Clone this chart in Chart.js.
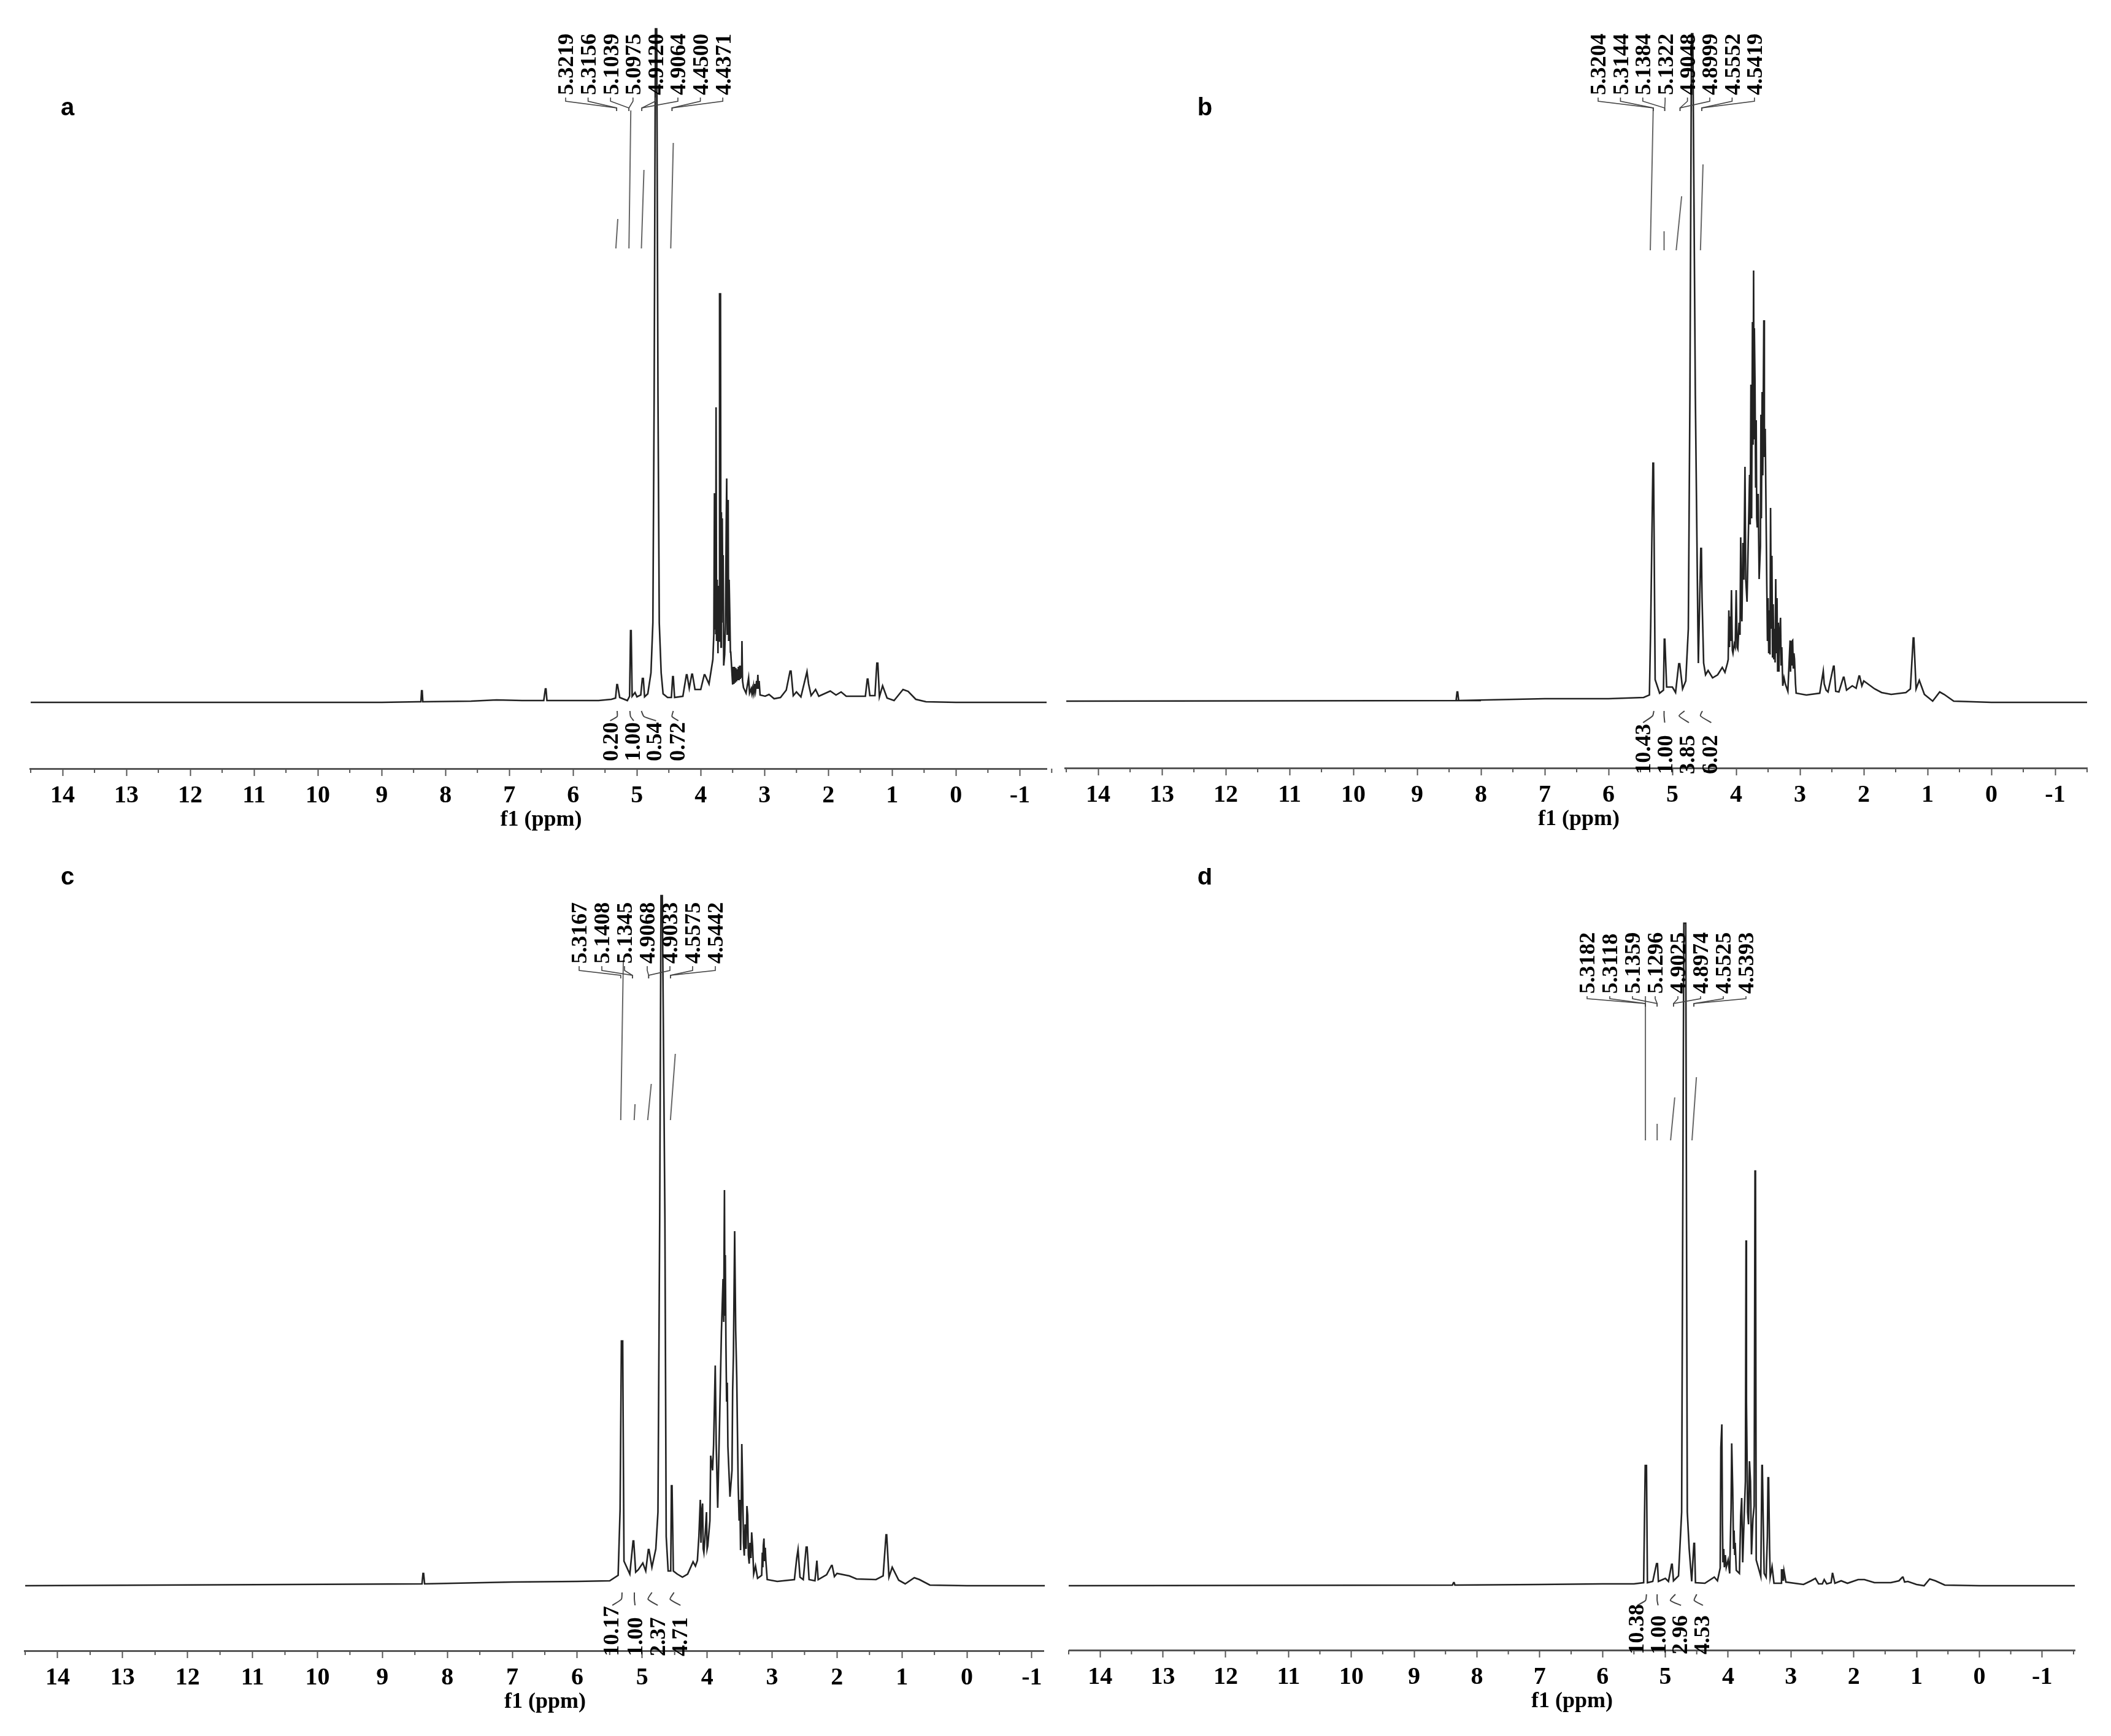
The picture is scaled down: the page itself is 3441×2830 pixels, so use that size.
<!DOCTYPE html>
<html><head><meta charset="utf-8">
<script src="https://cdn.jsdelivr.net/npm/chart.js@4"></script>
<style>html,body{margin:0;background:#fff}body{position:relative;width:3441px;height:2830px;overflow:hidden}canvas{position:absolute;filter:blur(0.6px)}</style>
</head><body>
<script>
// ---------- axis ticks ----------
const tickValues=[14,13,12,11,10,9,8,7,6,5,4,3,2,1,0,-1];
const minorTicks=[14.5,13.5,12.5,11.5,10.5,9.5,8.5,7.5,6.5,5.5,4.5,3.5,2.5,1.5,0.5,-0.5,-1.5];
const xTitle='f1 (ppm)';
const panelLetters=['a','b','c','d'];

// ---------- panel a ----------
const specAppm=[14.5,9,8.42,8.385,8.375,8.365,8.355,7.6,7.2,6.8,6.46,6.435,6.425,6.41,5.6,5.4,5.335,5.315,5.305,5.27,5.15,5.115,5.1,5.09,5.075,5.03,5.0,4.94,4.915,4.9,4.88,4.83,4.78,4.75,4.73,4.71,4.69,4.67,4.65,4.62,4.59,4.52,4.46,4.44,4.43,4.41,4.28,4.225,4.215,4.18,4.14,4.13,4.09,4.0,3.945,3.935,3.87,3.81,
 3.795,3.785,3.78,3.772,3.765,3.76,3.752,3.742,3.73,3.72,3.712,3.705,3.69,3.683,3.676,3.67,3.663,3.655,3.648,3.64,3.625,3.612,3.6,3.593,3.585,3.578,3.57,3.563,3.555,3.545,3.535,
 3.53,3.5,3.49,3.48,3.47,3.46,3.45,3.44,3.43,3.42,3.41,3.40,3.39,3.38,3.37,3.36,3.354,3.345,3.33,3.29,3.25,3.235,3.21,3.2,3.19,3.18,3.17,3.16,3.15,3.14,3.125,3.115,3.105,3.095,3.085,3.07,
 2.99,2.93,2.85,2.75,2.66,2.60,2.585,2.55,2.5,2.43,2.335,2.31,2.27,2.2,2.15,1.97,1.88,1.80,1.72,1.42,1.39,1.38,1.35,1.27,1.24,1.225,1.2,1.15,1.08,0.97,0.9,0.83,0.75,0.63,0.47,0,-1.42];
const specAint=[0,0,1,1,19,19,1,2,4,3,3,22,22,3,3,5,7,29,29,8,3,10,117,117,10,16,9,12,39,39,9,14,48,130,500,1098,1098,500,130,48,14,8,8,42,42,8,10,45,45,23,46,46,21,21,45,45,30,70,
 111,341,120,335,111,481,100,200,80,190,100,666,666,90,310,130,300,180,240,60,78,130,300,365,110,330,323,100,200,145,82,
 82,29,58,30,58,32,56,34,54,36,58,36,60,38,60,40,100,35,24,15,40,15,22,15,22,15,26,18,30,20,35,22,45,22,35,12,
 10,13,6,8,20,51,51,11,17,9,50,30,11,21,10,18.5,12,17,10,10,38,38,11,11,64,64,9,27,7,3,12,21,18,5,1,0,0];
const traceAppm=[5.33,5.30,null,5.125,5.096,null,4.93,4.89,null,4.47,4.43];
const traceAint=[740,788,null,740,965,null,740,868,null,740,912];
const markAppm=[5.31,5.31,5.42,null,5.11,5.10,5.05,null,4.93,4.89,4.70,null,4.43,4.45,4.35];
const markAint=[-14,-23,-30,null,-14,-23,-30,null,-14,-23,-30,null,-14,-23,-30];
const peakLabelsA=['5.3219','5.3156','5.1039','5.0975','4.9120','4.9064','4.4500','4.4371'];
const leaderAppm=[5.317,5.317,5.125,5.125,4.923,4.923,4.45,4.45];
const integralsA=['0.20','1.00','0.54','0.72'];

// ---------- panel b ----------
const specBppm=[14.5,8,8.39,8.375,8.365,8.35,7,6,5.45,5.36,5.34,5.305,5.295,5.27,5.2,5.14,5.127,5.118,5.09,5.05,5.0,4.95,4.9,4.885,4.84,4.79,4.75,4.725,4.70,4.68,4.64,4.60,4.593,4.555,4.545,4.535,4.51,4.48,4.44,4.37,4.29,4.218,4.176,4.137,
 4.125,4.115,4.105,4.095,4.085,4.074,4.06,4.05,4.03,4.015,4.0,3.985,3.974,3.955,3.94,3.929,3.92,3.91,3.895,3.88,3.862,3.85,3.83,
 3.79,3.78,3.769,3.758,3.745,3.735,3.727,3.72,3.715,3.705,3.695,3.686,3.678,3.67,3.655,3.64,3.62,3.612,3.605,3.593,3.583,3.567,3.558,3.545,
 3.52,3.51,3.50,3.49,3.48,3.47,3.461,3.45,3.44,3.43,3.42,3.41,3.40,3.39,3.38,3.37,3.36,3.35,3.34,3.33,3.32,3.305,3.295,3.285,3.27,3.25,3.23,3.19,3.155,3.148,3.14,3.13,3.122,3.115,3.105,3.095,3.086,3.07,3.06,
 2.9,2.69,2.635,2.62,2.59,2.56,2.475,2.465,2.44,2.39,2.32,2.31,2.27,2.18,2.12,2.075,2.065,2.03,2.0,1.83,1.72,1.57,1.34,1.27,1.225,1.215,1.18,1.13,1.05,0.92,0.81,0.74,0.59,0,-1.5];
const specBint=[2,3,3,17,17,3,6,6,8,12,124,390,390,37,15,20,103,103,25,25,25,16,63,63,22,35,120,500,1090,1090,500,120,64,251,251,170,64,45,52,40,45,57,49,64,
 70,150,90,140,100,183,85,80,95,90,183,90,87,130,110,269,150,132,260,200,384,200,164,
 371,290,518,300,620,420,704,430,610,523,350,460,300,285,340,201,255,469,300,506,370,623,400,446,
 190,100,170,80,150,78,317,120,239,73,160,70,120,65,201,80,170,50,130,50,110,138,60,90,27,40,30,18,101,50,100,60,100,101,55,80,71,30,15,
 12,15,51,30,20,17,59,59,18,17,41,41,20,27,23,43,43,27,35,22,16,13,16,22,105,105,22,36,13,2,17,13,2,0,0];
const traceBppm=[5.346,5.30,null,5.13,5.13,null,4.94,4.855,null,4.56,4.52];
const traceBint=[737,970,null,737,768,null,737,825,null,737,877];
const markBppm=[5.29,5.31,5.46,null,5.13,5.13,5.12,null,4.81,4.895,4.74,null,4.53,4.56,4.39];
const markBint=[-14,-22,-33,null,-14,-22,-33,null,-14,-22,-33,null,-14,-22,-33];
const peakLabelsB=['5.3204','5.3144','5.1384','5.1322','4.9048','4.8999','4.5552','4.5419'];
const leaderBppm=[5.30,5.30,5.12,5.12,4.88,4.88,4.54,4.54];
const integralsB=['10.43','1.00','3.85','6.02'];

// ---------- panel c ----------
const specCppm=[14.5,8.39,8.375,8.365,8.35,7,6,5.5,5.37,5.34,5.32,5.30,5.28,5.19,5.14,5.13,5.10,5.06,4.99,4.945,4.905,4.895,4.85,4.79,4.757,4.73,4.71,4.69,4.65,4.63,4.6,4.56,4.55,4.54,4.52,4.46,4.38,4.3,4.216,4.18,4.15,4.127,
 4.105,4.095,4.085,4.07,4.06,4.05,4.035,4.01,4.0,3.99,
 3.957,3.945,3.916,3.90,3.875,3.86,3.837,3.806,3.78,
 3.755,3.745,3.733,3.726,3.72,3.71,3.70,3.69,3.68,3.648,
 3.617,3.607,3.595,3.576,3.56,3.544,
 3.522,3.507,3.495,3.485,3.475,3.466,3.453,3.44,3.428,3.415,3.40,3.387,3.375,3.365,3.352,3.34,3.325,3.314,3.30,3.283,3.255,3.223,3.16,3.15,3.142,3.135,3.125,3.115,3.105,3.095,3.075,
 2.92,2.656,2.62,2.6,2.57,2.52,2.475,2.46,2.43,2.34,2.31,2.29,2.16,2.085,2.075,2.04,2.0,1.81,1.70,1.4,1.29,1.245,1.235,1.2,1.15,1.05,0.95,0.81,0.73,0.57,0,-1.2];
const specCint=[0,3,20,20,3,6,7,8,17,124,399,399,40,19,73,73,22,26,37,24,59,59,30,60,120,600,1125,1125,600,80,24,24,163,163,24,19,14,19,39,32,41,80,
 140,70,120,134,60,54,75,120,60,65,
 106,212,188,230,359,230,127,279,413,
 500,430,645,440,539,392,300,331,227,145,
 188,318,375,578,416,340,
 166,106,140,58,120,231,162,70,49,100,60,130,115,50,36,70,45,87,65,19,32,12,17,54,30,65,77,40,62,40,10,
 7,10,45,59,14,10,63,63,10,8,41,10,18,33,33,15,20,16,11,10,16,83,83,14,30,9,3,13,10,1,0,0];
const traceCppm=[5.33,5.29,null,5.123,5.11,null,4.915,4.86,null,4.565,4.49];
const traceCint=[759,1020,null,759,785,null,759,818,null,759,867];
const markCppm=[5.31,5.32,5.46,null,5.12,5.12,5.11,null,4.85,4.91,4.76,null,4.51,4.57,4.41];
const markCint=[-11,-22,-32,null,-11,-22,-32,null,-11,-22,-32,null,-11,-22,-32];
const peakLabelsC=['5.3167','5.1408','5.1345','4.9068','4.9033','4.5575','4.5442'];
const leaderCppm=[5.33,5.15,5.15,4.90,4.90,4.565,4.565];
const integralsC=['10.17','1.00','2.37','4.71'];

// ---------- panel d ----------
const specDppm=[14.5,8.39,8.372,8.362,8.35,7,6,5.5,5.345,5.32,5.30,5.285,5.2,5.14,5.125,5.11,5.0,4.95,4.90,4.89,4.87,4.79,4.74,4.705,4.675,4.65,4.62,4.58,4.545,4.535,4.52,4.37,4.22,4.17,4.126,4.116,4.1,
 4.09,4.083,4.07,4.06,4.045,4.03,4.0,3.975,3.953,3.943,
 3.927,3.914,3.905,3.895,3.888,3.87,
 3.82,3.80,3.784,3.768,3.74,3.725,3.715,3.708,3.69,3.675,3.66,3.644,3.628,3.605,3.585,3.572,3.564,3.553,3.52,3.48,3.462,3.455,3.44,3.426,3.395,3.375,3.365,3.355,3.34,3.33,3.30,3.27,
 3.155,3.15,3.14,3.13,3.12,3.11,3.08,
 2.80,2.68,2.61,2.56,2.5,2.47,2.43,2.36,2.34,2.335,2.3,2.2,2.1,1.93,1.83,1.67,1.41,1.28,1.225,1.215,1.19,1.14,1.0,0.88,0.79,0.70,0.55,0,-1.52];
const specDint=[0,1,5,5,1,2,3,3,5,196,196,5,7,36,36,7,12,7,35,35,8,16,120,1080,1080,120,60,7,69,69,5,4,14,8,29,225,263,
 100,38,60,30,50,30,42,20,127,232,
 158,60,90,50,70,25,
 20,114,143,38,127,170,563,300,120,100,203,170,51,109,130,676,676,42,30,15,196,196,100,20,14,80,176,176,60,14,31,4,
 4,27,8,27,8,24,6,
 2,8,12,3,3,10,3,5,20,20,4,8,4,10,10,5,5,8,14,14,6,7,2,0,11,8,1,0,0];
const traceDppm=[5.317,5.317,null,5.13,5.13,null,4.916,4.85,null,4.575,4.505];
const traceDint=[726,961,null,726,753,null,726,796,null,726,829];
const markDppm=[5.30,5.315,5.445,null,5.13,5.13,5.115,null,4.84,4.92,4.75,null,4.5,4.54,4.4];
const markDint=[-14,-24,-32,null,-14,-24,-32,null,-14,-24,-32,null,-14,-24,-32];
const peakLabelsD=['5.3182','5.3118','5.1359','5.1296','4.9025','4.8974','4.5525','4.5393'];
const leaderDppm=[5.317,5.317,5.13,5.13,4.87,4.87,4.545,4.545];
const integralsD=['10.38','1.00','2.96','4.53'];

// ---------- layout (page pixels) ----------
const SERIF='"Liberation Serif"', SANS='"Liberation Sans"';
const layouts=[
 {ox:0,oy:0,left:49,right:1706,axisY:1253,baseY:1145,topY:20,xMax:14.51,xMin:-1.42,letter:[110,177],titleShift:1,
  lab:{x0:922,dx:36.6,bottom:155,stem:165,joint:176,end:181},integ:{xs:[995,1031,1066,1104],bottom:1241}},
 {ox:1720,oy:0,left:1736,right:3402,axisY:1252,baseY:1145,topY:20,xMax:14.52,xMin:-1.5,letter:[1964,177],titleShift:1,
  lab:{x0:2605,dx:36.4,bottom:155,stem:165,joint:176,end:181},integ:{xs:[2678,2714,2750,2787],bottom:1262}},
 {ox:0,oy:1415,left:40,right:1701,axisY:2691,baseY:2585,topY:1440,xMax:14.51,xMin:-1.18,letter:[110,1431],titleShift:4,
  lab:{x0:944,dx:37,bottom:1571,stem:1582,joint:1590,end:1595},integ:{xs:[996,1035,1072,1108],bottom:2700}},
 {ox:1720,oy:1415,left:1743,right:3382,axisY:2690,baseY:2585,topY:1440,xMax:14.49,xMin:-1.52,letter:[1964,1431],titleShift:0,
  lab:{x0:2587,dx:37,bottom:1620,stem:1628,joint:1636,end:1641},integ:{xs:[2667,2703,2738,2774],bottom:2697}}
];
const panelData=[
 [specAppm,specAint,traceAppm,traceAint,markAppm,markAint,peakLabelsA,leaderAppm,integralsA],
 [specBppm,specBint,traceBppm,traceBint,markBppm,markBint,peakLabelsB,leaderBppm,integralsB],
 [specCppm,specCint,traceCppm,traceCint,markCppm,markCint,peakLabelsC,leaderCppm,integralsC],
 [specDppm,specDint,traceDppm,traceDint,markDppm,markDint,peakLabelsD,leaderDppm,integralsD]
];
const CW=1721, CH=1415, TITLE_FONT=36, TICK_FONT=40, LABEL_FONT=36.5, TEXT_SHIFT=3;
const pts=(xs,ys)=>xs.map((x,i)=>({x:x===null?NaN:x,y:ys[i]===null?NaN:ys[i]}));

panelData.forEach((d,idx)=>{
  const L=layouts[idx];
  const [sx,sy,tx,ty,mx,my,peaks,leaders,integrals]=d;
  const canvas=document.createElement('canvas');
  canvas.width=CW;canvas.height=CH;
  canvas.style.left=L.ox+'px';canvas.style.top=L.oy+'px';
  document.body.appendChild(canvas);
  const titleCenter=L.axisY+84;
  const titleBottom=titleCenter+TITLE_FONT*0.6;
  const overlay={
    id:'nmrAnnotations',
    afterDatasetsDraw(chart){
      const c=chart.ctx, xs=chart.scales.x;
      c.save();
      c.translate(-L.ox,-L.oy);
      c.strokeStyle='#555';c.lineWidth=2;
      minorTicks.forEach(v=>{
        const px=xs.getPixelForValue(v)+L.ox;
        c.beginPath();c.moveTo(px,L.axisY);c.lineTo(px,L.axisY+7);c.stroke();
      });
      c.fillStyle='#000';c.textBaseline='middle';c.textAlign='left';
      c.font='bold '+LABEL_FONT+'px '+SERIF;
      peaks.forEach((t,i)=>{
        const lx=L.lab.x0+i*L.lab.dx;
        c.save();c.translate(lx+TEXT_SHIFT,L.lab.bottom);c.rotate(-Math.PI/2);c.fillText(t,0,0);c.restore();
        const tgt=xs.getPixelForValue(leaders[i])+L.ox;
        c.strokeStyle='#444';c.lineWidth=1.6;c.beginPath();
        c.moveTo(lx,L.lab.bottom+4);c.lineTo(lx,L.lab.stem);c.lineTo(tgt,L.lab.joint);c.lineTo(tgt,L.lab.end);c.stroke();
      });
      integrals.forEach((t,i)=>{
        c.save();c.translate(L.integ.xs[i]+TEXT_SHIFT,L.integ.bottom);c.rotate(-Math.PI/2);c.fillText(t,0,0);c.restore();
      });
      c.font='bold 40px '+SANS;c.textAlign='center';
      c.fillText(panelLetters[idx],L.letter[0],L.letter[1]);
      c.restore();
    }
  };
  new Chart(canvas,{
    type:'line',
    data:{datasets:[
      {label:'spectrum',data:pts(sx,sy),borderColor:'#222',borderWidth:2.6,pointRadius:0,tension:0,borderJoinStyle:'miter',clip:false},
      {label:'integral traces',data:pts(tx,ty),borderColor:'#666',borderWidth:2,pointRadius:0,tension:0,spanGaps:false,clip:false},
      {label:'integral marks',data:pts(mx,my),borderColor:'#444',borderWidth:2,pointRadius:0,tension:0.2,spanGaps:false,clip:false}
    ]},
    options:{
      responsive:false,animation:false,devicePixelRatio:1,
      plugins:{legend:{display:false},tooltip:{enabled:false},title:{display:false}},
      layout:{padding:{left:L.left-L.ox,right:CW-(L.right-L.ox),top:L.topY-L.oy,bottom:CH-(titleBottom-L.oy)}},
      elements:{line:{capBezierPoints:false}},
      scales:{
        x:{type:'linear',reverse:true,min:L.xMin,max:L.xMax,
          afterBuildTicks(s){s.ticks=tickValues.map(v=>({value:v}));},
          afterFit(s){s.height=titleBottom-L.axisY;s.paddingLeft=0;s.paddingRight=0;},
          grid:{drawOnChartArea:false,drawTicks:true,tickLength:12,tickWidth:2,tickColor:'#555'},
          border:{display:true,color:'#555',width:3},
          ticks:{autoSkip:false,maxRotation:0,minRotation:0,padding:9,color:'#000',
            font:{family:SERIF,size:TICK_FONT,weight:'bold'},callback:v=>String(v)},
          title:{display:true,text:' '.repeat(L.titleShift)+xTitle,color:'#000',padding:0,
            font:{family:SERIF,size:TITLE_FONT,weight:'bold'}}
        },
        y:{type:'linear',display:false,min:L.baseY-L.axisY,max:L.baseY-L.topY}
      }
    },
    plugins:[overlay]
  });
});
</script>
</body></html>
